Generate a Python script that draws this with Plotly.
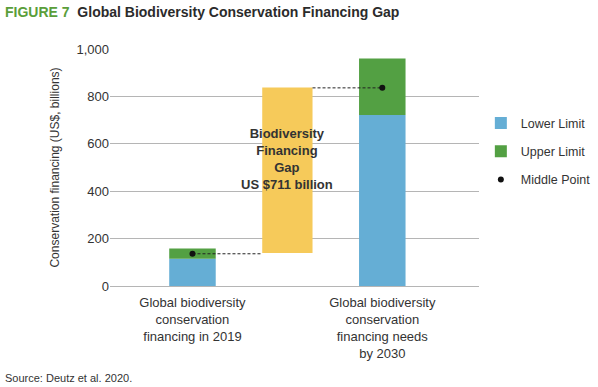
import plotly.graph_objects as go

# ---- data ----
categories = ["Global biodiversity<br>conservation<br>financing in 2019",
              "",
              "Global biodiversity<br>conservation<br>financing needs<br>by 2030"]
bar_positions = [0, 2]
lower_limit = [115, 722]
upper_limit = [158, 960]
middle_point = [136, 836]
gap_bottom = 139
gap_top = 838
gap_label = "<b>Biodiversity<br>Financing<br>Gap<br>US $711 billion</b>"
yticks = [0, 200, 400, 600, 800, 1000]

BLUE = "#65aed5"
GREEN = "#53a043"
YELLOW = "#f6ca5a"
TXT = "#333333"
FONT = "Liberation Sans, Arial, sans-serif"

bar_w = 0.49
gap_w = 0.53

fig = go.Figure()
fig.add_trace(go.Bar(x=bar_positions, y=lower_limit, width=bar_w, marker_color=BLUE,
                     marker_line_width=0, name="Lower Limit", legendgroup="a"))
fig.add_trace(go.Bar(x=bar_positions, y=[u - l for u, l in zip(upper_limit, lower_limit)],
                     base=lower_limit, width=bar_w, marker_color=GREEN, marker_line_width=0,
                     name="Upper Limit", legendgroup="b"))
fig.add_trace(go.Bar(x=[1], y=[gap_top - gap_bottom], base=[gap_bottom], width=gap_w,
                     marker_color=YELLOW, marker_line_width=0, showlegend=False))

# dashed connectors from middle points to the gap bar
fig.add_trace(go.Scatter(x=[bar_positions[0], 1 - gap_w / 2], y=[middle_point[0]] * 2,
                         mode="lines", line=dict(color="#222222", width=1, dash="3px,2px"),
                         showlegend=False, hoverinfo="skip"))
fig.add_trace(go.Scatter(x=[1 + gap_w / 2, bar_positions[1]], y=[middle_point[1]] * 2,
                         mode="lines", line=dict(color="#222222", width=1, dash="3px,2px"),
                         showlegend=False, hoverinfo="skip"))
fig.add_trace(go.Scatter(x=bar_positions, y=middle_point, mode="markers",
                         marker=dict(color="#111111", size=6), name="Middle Point",
                         legendgroup="c"))

fig.add_annotation(x=1, y=535, text=gap_label, showarrow=False,
                   font=dict(size=13, color=TXT, family=FONT), align="center")

fig.update_layout(
    width=598, height=387,
    margin=dict(l=110, r=119, t=49, b=101, autoexpand=False),
    paper_bgcolor="white", plot_bgcolor="white",
    barmode="overlay",
    font=dict(family=FONT, size=13, color=TXT),
    showlegend=True,
    legend=dict(x=1.005, xanchor="left", y=0.75, yanchor="top", traceorder="grouped",
                tracegroupgap=9, font=dict(size=12.5, color=TXT), bgcolor="rgba(0,0,0,0)"),
    xaxis=dict(range=[-0.869, 3.019], tickvals=[0, 1, 2], ticktext=categories,
               showgrid=False, zeroline=False, showline=False, ticks="",
               ticklabelstandoff=7, automargin=False,
               tickfont=dict(size=13, color=TXT)),
    yaxis=dict(range=[0, 1000], tickvals=yticks, tickformat=",d", showgrid=True,
               gridcolor="#b5b5b5", gridwidth=1, zeroline=True, zerolinecolor="#b5b5b5",
               zerolinewidth=1, showline=False, ticks="", ticklabelstandoff=0,
               automargin=False,
               tickfont=dict(size=13, color=TXT),
               title=dict(text="Conservation financing (US$, billions)",
                          font=dict(size=12, color=TXT), standoff=14)),
)

fig.add_annotation(xref="paper", yref="paper", x=-107 / 369, y=1 + 37 / 236,
                   xanchor="left", yanchor="middle", showarrow=False,
                   text="<b><span style='color:#5a9e3a'>FIGURE 7</span>  Global Biodiversity Conservation Financing Gap</b>",
                   font=dict(size=14, color="#2b2b2b", family=FONT))
fig.add_annotation(xref="paper", yref="paper", x=-107 / 369, y=-(377 - 285.5) / 236,
                   xanchor="left", yanchor="middle", showarrow=False,
                   text="Source: Deutz et al. 2020.",
                   font=dict(size=11, color=TXT, family=FONT))

fig.write_html("out.html", config={"displayModeBar": False},
               post_script="document.body.style.margin='0';")
